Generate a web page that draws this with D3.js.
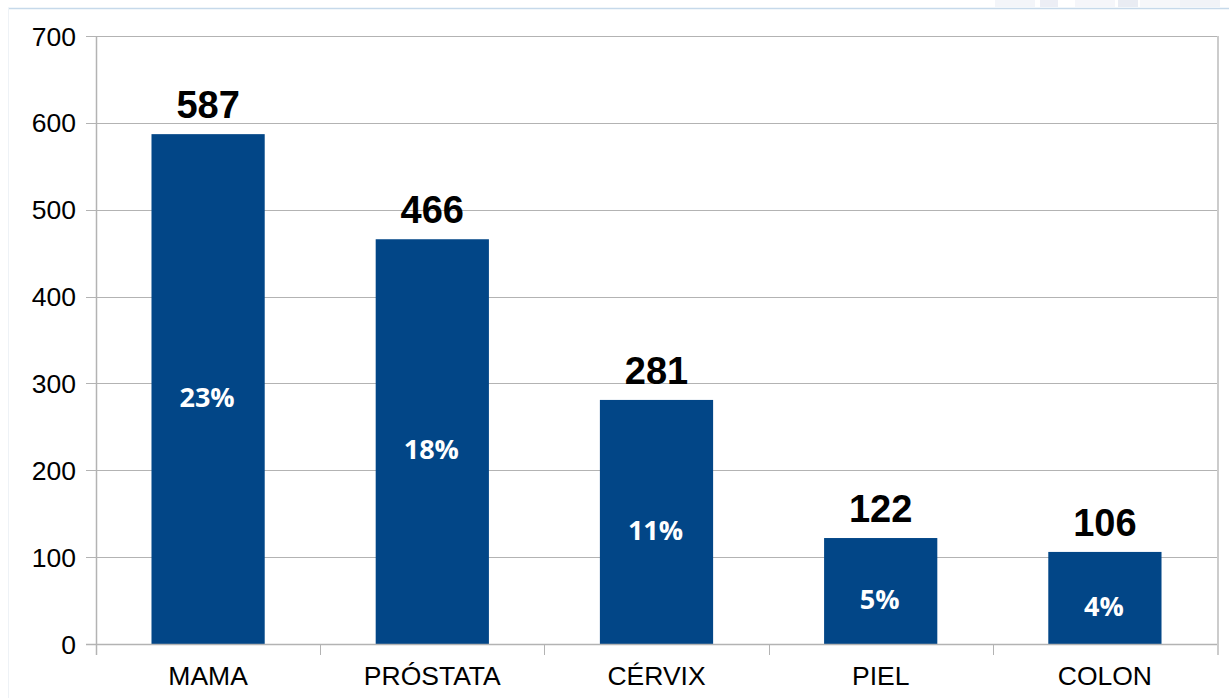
<!DOCTYPE html>
<html><head><meta charset="utf-8">
<script src="https://cdn.jsdelivr.net/npm/d3@7"></script>
<style>body{margin:0;background:#fff}svg{display:block}</style>
</head><body>
<svg id="c" width="1229" height="698"></svg>
<script>
const categories = ["MAMA", "PRÓSTATA", "CÉRVIX", "PIEL", "COLON"];
const values = [587, 466, 281, 122, 106];
const percents = ["23%", "18%", "11%", "5%", "4%"];
const yTicks = [0, 100, 200, 300, 400, 500, 600, 700];

const svg = d3.select("#c");
const W = 1229, H = 698;
const m = {left: 96, right: 1217, top: 36, bottom: 644};

// frame decoration
svg.append("line").attr("x1", 8).attr("x2", W).attr("y1", 8.5).attr("y2", 8.5)
  .attr("stroke", "#c6d9ea").attr("stroke-width", 1.5);
svg.append("line").attr("x1", 8.5).attr("x2", 8.5).attr("y1", 8).attr("y2", H)
  .attr("stroke", "#eef2f6").attr("stroke-width", 1);
const deco = svg.append("g").attr("opacity", 0.35);
[[995,40,"#dde3ee"],[1040,18,"#c9d0e3"],[1075,40,"#e3e8f1"],[1118,20,"#c2cade"],[1140,40,"#e6eaf2"],[1180,40,"#d8dfeb"]]
  .forEach(d => deco.append("rect").attr("x", d[0]).attr("y", 0).attr("width", d[1]).attr("height", 7).attr("fill", d[2]));

const x = d3.scaleBand().domain(categories).range([m.left, m.right]).paddingInner(0.495).paddingOuter(0.2475);
const xb = d3.scaleBand().domain(categories).range([m.left, m.right]);
const y = d3.scaleLinear().domain([0, 700]).range([m.bottom, m.top]);

// gridlines
svg.append("g").selectAll("line").data(yTicks).join("line")
  .attr("x1", m.left - 10).attr("x2", m.right)
  .attr("y1", d => Math.round(y(d)) + 0.5).attr("y2", d => Math.round(y(d)) + 0.5)
  .attr("stroke", "#b3b3b3").attr("stroke-width", 1);

// right border
svg.append("line").attr("x1", m.right + 1).attr("x2", m.right + 1).attr("y1", m.top).attr("y2", m.bottom + 11)
  .attr("stroke", "#cccccc").attr("stroke-width", 2);

// y axis labels
svg.append("g").selectAll("text").data(yTicks).join("text")
  .attr("x", 76).attr("y", d => y(d)).attr("dy", "0.36em")
  .attr("text-anchor", "end")
  .attr("font-family", "Liberation Sans, Arial, sans-serif").attr("font-size", 26.5)
  .attr("fill", "#000").text(d => d);

// bars
svg.append("g").selectAll("rect").data(values).join("rect")
  .attr("x", (d, i) => x(categories[i]))
  .attr("width", x.bandwidth())
  .attr("y", d => y(d))
  .attr("height", d => y(0) - y(d))
  .attr("fill", "#024687");

// axes lines
svg.append("line").attr("x1", m.left + 0.5).attr("x2", m.left + 0.5).attr("y1", m.top).attr("y2", m.bottom + 11)
  .attr("stroke", "#b3b3b3").attr("stroke-width", 1.5);
svg.append("line").attr("x1", m.left - 10).attr("x2", m.right).attr("y1", m.bottom + 0.5).attr("y2", m.bottom + 0.5)
  .attr("stroke", "#b3b3b3").attr("stroke-width", 1.5);
svg.append("g").selectAll("line").data(categories.slice(1)).join("line")
  .attr("x1", d => Math.round(xb(d)) + 0.5).attr("x2", d => Math.round(xb(d)) + 0.5)
  .attr("y1", m.bottom).attr("y2", m.bottom + 11)
  .attr("stroke", "#b3b3b3").attr("stroke-width", 1);

// category labels
svg.append("g").selectAll("text").data(categories).join("text")
  .attr("x", d => xb(d) + xb.bandwidth() / 2).attr("y", 685)
  .attr("text-anchor", "middle")
  .attr("font-family", "Liberation Sans, Arial, sans-serif").attr("font-size", 26.5)
  .attr("fill", "#000").text(d => d);

// value labels
svg.append("g").selectAll("text").data(values).join("text")
  .attr("x", (d, i) => xb(categories[i]) + xb.bandwidth() / 2)
  .attr("y", d => y(d) - 16)
  .attr("text-anchor", "middle")
  .attr("font-family", "Liberation Sans, Arial, sans-serif").attr("font-weight", "bold").attr("font-size", 38)
  .attr("fill", "#000").text(d => d);

// percent labels
svg.append("g").selectAll("text").data(values).join("text")
  .attr("x", (d, i) => xb(categories[i]) + xb.bandwidth() / 2 - 1)
  .attr("y", d => (y(d) + y(0)) / 2 + 8)
  .attr("dy", "0.36em")
  .attr("text-anchor", "middle")
  .attr("font-family", "Open Sans, sans-serif").attr("font-weight", "bold").attr("font-size", 27)
  .attr("fill", "#fff").text((d, i) => percents[i]);
</script>
</body></html>
